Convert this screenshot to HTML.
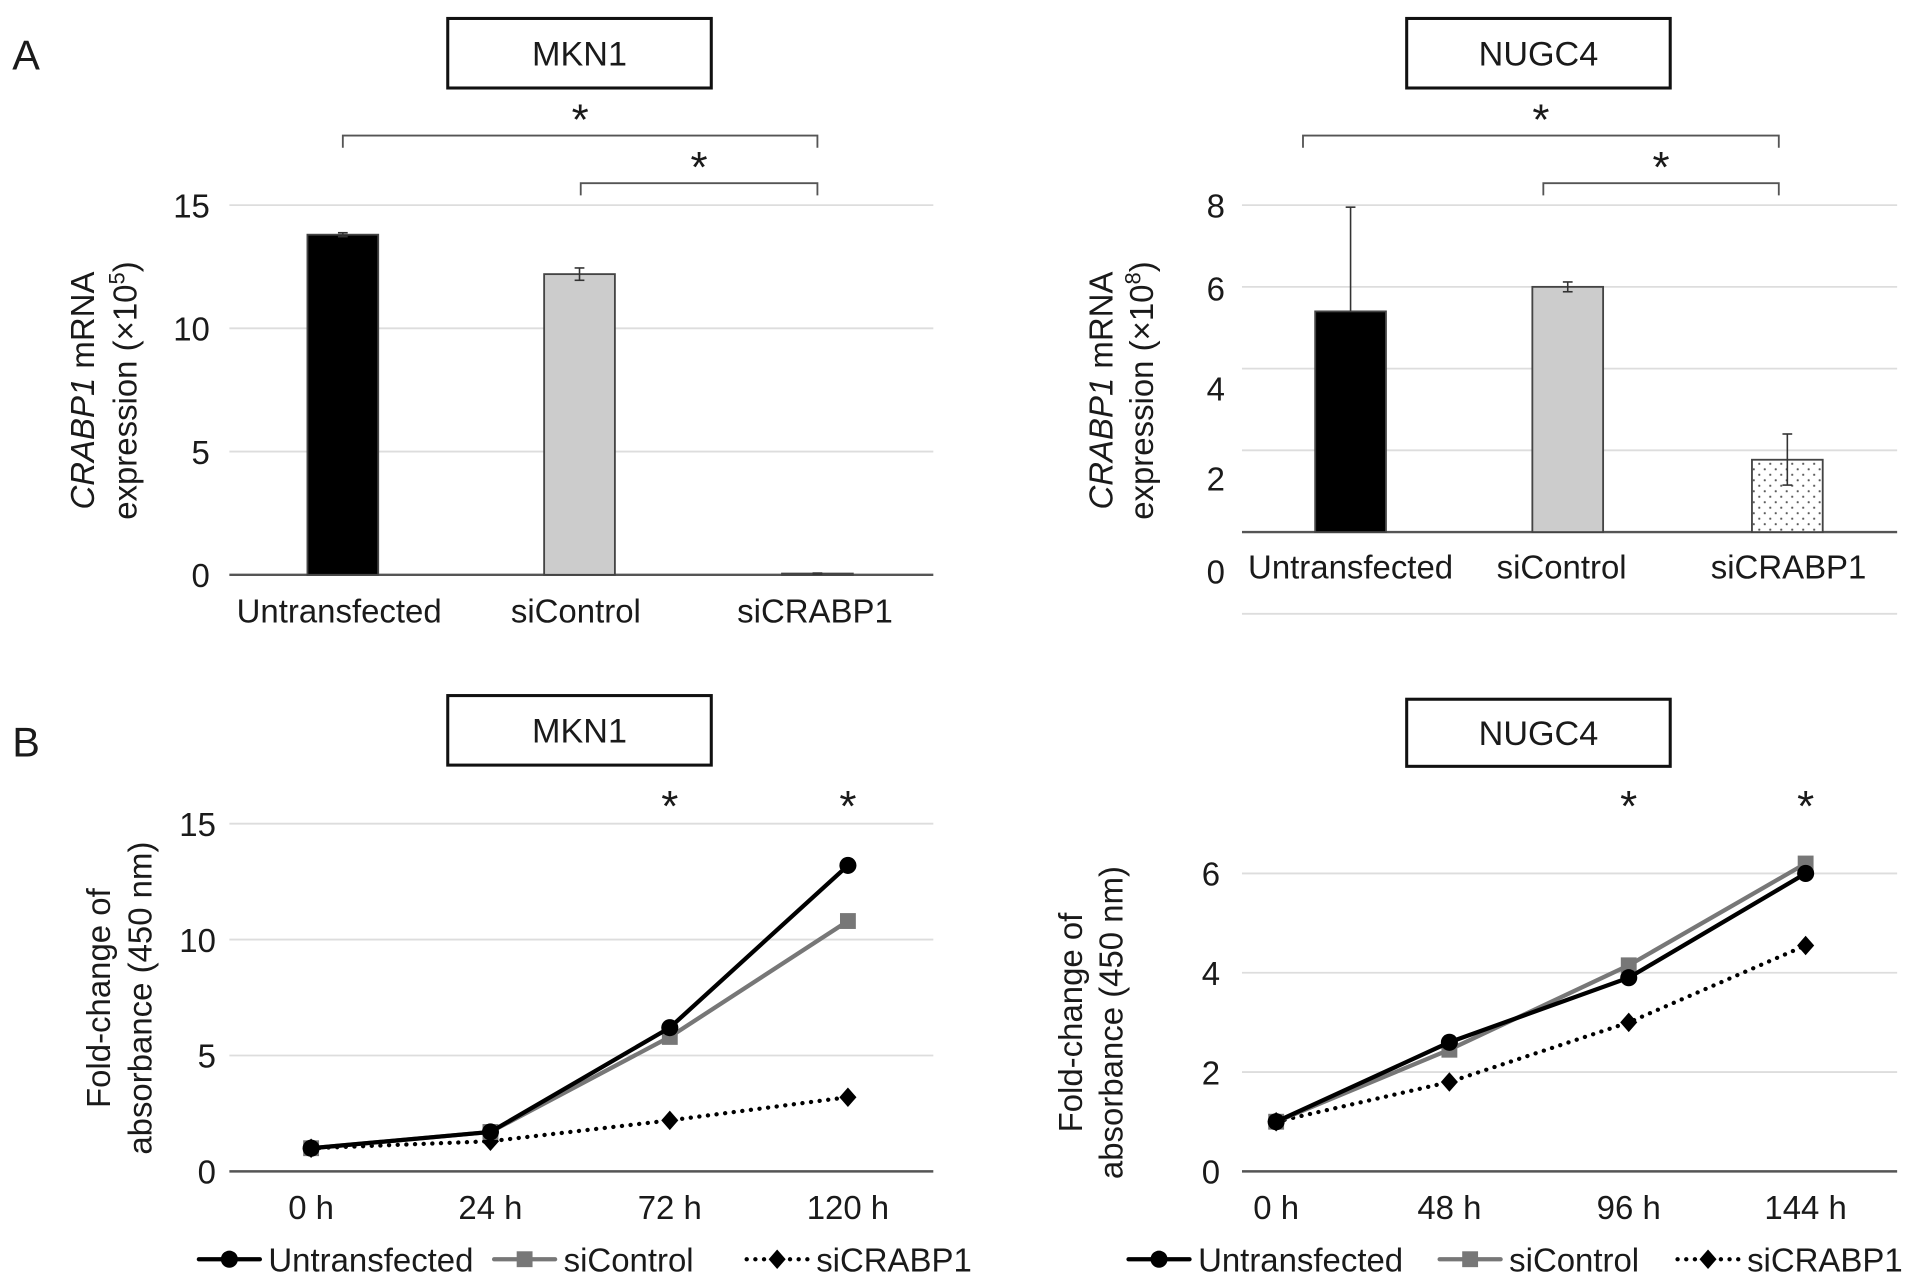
<!DOCTYPE html>
<html><head><meta charset="utf-8"><style>
html,body{margin:0;padding:0;background:#fff}
svg{display:block;font-family:"Liberation Sans",sans-serif}
</style></head><body>
<svg id="fig" width="1913" height="1285" viewBox="0 0 1568 1053"></svg>
<script>
// ---- data ----
const barCategories = ["Untransfected","siControl","siCRABP1"];
const mkn1BarValues = [13.8, 12.2, 0.05];
const mkn1BarErrors = [0.08, 0.25, 0.02];
const nugc4BarValues = [5.4, 6.0, 1.77];
const nugc4BarErrUp = [2.55, 0.12, 0.63];
const nugc4BarErrDown = [0, 0.12, 0.62];
const mkn1BarTicks = [0,5,10,15];
const nugc4BarTicks = [0,2,4,6,8];
const mkn1TimeLabels = ["0 h","24 h","72 h","120 h"];
const nugc4TimeLabels = ["0 h","48 h","96 h","144 h"];
const seriesNames = ["Untransfected","siControl","siCRABP1"];
const mkn1Untransfected = [1.0, 1.7, 6.2, 13.2];
const mkn1SiControl = [1.0, 1.7, 5.8, 10.8];
const mkn1SiCRABP1 = [1.0, 1.3, 2.2, 3.2];
const nugc4Untransfected = [1.0, 2.6, 3.9, 6.0];
const nugc4SiControl = [1.0, 2.45, 4.15, 6.2];
const nugc4SiCRABP1 = [1.0, 1.8, 3.0, 4.55];
const mkn1LineTicks = [0,5,10,15];
const nugc4LineTicks = [0,2,4,6];

const FS=27;
const NS="http://www.w3.org/2000/svg";
const svg=document.getElementById('fig');
function el(tag,attrs,parent){const e=document.createElementNS(NS,tag);for(const k in attrs)e.setAttribute(k,attrs[k]);(parent||svg).appendChild(e);return e;}
function txt(x,y,s,size,anchor,parent){const t=el('text',{x:x,y:y,'font-size':size,'text-anchor':anchor||'middle',fill:'#1a1a1a'},parent);t.textContent=s;return t;}

function titleBox(x,y,w,h,label){
  const g=el('g',{});
  
  
  el('rect',{x:x,y:y,width:w,height:h,fill:'#fff',stroke:'#111','stroke-width':2.5},g);
  txt(x+w/2,y+h/2+10,label,28,'middle',g);
}
function bracket(x1,x2,y){
  const g=el('g',{});
  
  
  el('path',{d:`M${x1} ${y+10}V${y}H${x2}V${y+10}`,fill:'none',stroke:'#555','stroke-width':1.5},g);
  txt((x1+x2)/2,y-1,'*',36,'middle',g);
}
function ylabel(x1,x2,cy,l1a,l1b,l2){
  const g=el('g',{transform:`rotate(-90)`});
  
  
  const t=el('text',{x:-cy,y:x1,'font-size':FS,'text-anchor':'middle',fill:'#1a1a1a'},g);
  if(l1a){const s=el('tspan',{'font-style':'italic'},t);s.textContent=l1a;}
  const s2=el('tspan',{},t);s2.textContent=l1b;
  const t2=el('text',{x:-cy,y:x2,'font-size':FS,'text-anchor':'middle',fill:'#1a1a1a'},g);
  t2.innerHTML=l2;
}

txt(10,57,'A',34,'start');
txt(10,620,'B',34,'start');

function barChart(cfg){
  const g=el('g',{});
  
  
  const y=v=>cfg.y0-(v-0)*cfg.ppu;
  cfg.grid.forEach(v=>{ if(v!==0) el('line',{x1:cfg.x1,x2:cfg.x2,y1:y(v),y2:y(v),stroke:'#ddd','stroke-width':1.5},g);});
  cfg.ticks.forEach((v,i)=>{const t=txt(cfg.tickX,(cfg.tickY?cfg.tickY[i]:y(v))+10,String(v),FS,'end',g);
    });
  el('line',{x1:cfg.x1,x2:cfg.x2,y1:cfg.y0,y2:cfg.y0,stroke:'#555','stroke-width':2},g);
  cfg.values.forEach((v,i)=>{
    const cx=cfg.cx[i],w=58;
    const fill=i===0?'#000':(i===1?'#ccc':(cfg.dots?'url(#dots)':'#fff'));
    const r=el('rect',{x:cx-w/2,y:y(v),width:w,height:cfg.y0-y(v),fill:fill,stroke:'#444','stroke-width':1.5},g);
    
    
    const up=cfg.errUp[i],dn=cfg.errDown[i];
    if(up>0){
      el('line',{x1:cx,x2:cx,y1:y(v-dn),y2:y(v+up),stroke:'#333','stroke-width':1.3},g);
      el('line',{x1:cx-4,x2:cx+4,y1:y(v+up),y2:y(v+up),stroke:'#333','stroke-width':1.3},g);
      if(dn>0)el('line',{x1:cx-4,x2:cx+4,y1:y(v-dn),y2:y(v-dn),stroke:'#333','stroke-width':1.3},g);
    }
    const t=txt(cfg.labelX[i],cfg.labelY,barCategories[i],FS,'middle',g);
    
  });
}
const defs=el('defs',{});
const pat=el('pattern',{id:'dots',width:9,height:9,patternUnits:'userSpaceOnUse'},defs);
el('rect',{width:9,height:9,fill:'#fff'},pat);
el('circle',{cx:2,cy:2,r:0.9,fill:'#555'},pat);
el('circle',{cx:6.5,cy:6.5,r:0.9,fill:'#555'},pat);

titleBox(367,15,216,57,'MKN1');
titleBox(1153,15,216,57,'NUGC4');
bracket(281,670,111);bracket(476,670,150);
bracket(1068,1458,111);bracket(1265,1458,150);

barChart({name:'mkn1-bar-chart',x1:188,x2:765,y0:471,ppu:20.2,grid:mkn1BarTicks,ticks:mkn1BarTicks,tickX:172,
  values:mkn1BarValues,errUp:mkn1BarErrors,errDown:mkn1BarErrors,cx:[281,475,670],labelX:[278,472,668],labelY:510});
barChart({name:'nugc4-bar-chart',x1:1018,x2:1555,y0:436,ppu:33.5,grid:[-2,2,4,6,8],ticks:nugc4BarTicks,tickX:1004,
  tickY:[468,392,318,236,168],
  values:nugc4BarValues,errUp:nugc4BarErrUp,errDown:nugc4BarErrDown,cx:[1107,1285,1465],labelX:[1107,1280,1466],labelY:474,dots:true});
ylabel(77,112,320,'CRABP1',' mRNA','expression (×10<tspan dy="-10" font-size="18">5</tspan><tspan dy="10">)</tspan>');
ylabel(912,945,320,'CRABP1',' mRNA','expression (×10<tspan dy="-10" font-size="18">8</tspan><tspan dy="10">)</tspan>');

titleBox(367,570,216,57,'MKN1');
titleBox(1153,573,216,55,'NUGC4');
function marker(type,x,y,color,g){
  if(type===0)return el('circle',{cx:x,cy:y,r:7,fill:color},g);
  if(type===1)return el('rect',{x:x-6.5,y:y-6.5,width:13,height:13,fill:color},g);
  return el('path',{d:`M${x} ${y-8}L${x+7} ${y}L${x} ${y+8}L${x-7} ${y}Z`,fill:color},g);
}
const colors=['#000','#777','#000'];
function lineChart(cfg){
  const g=el('g',{});
  
  
  const y=v=>cfg.y0-v*cfg.ppu;
  cfg.ticks.forEach(v=>{ if(v!==0) el('line',{x1:cfg.x1,x2:cfg.x2,y1:y(v),y2:y(v),stroke:'#ddd','stroke-width':1.5},g);
    const t=txt(cfg.tickX,y(v)+10,String(v),FS,'end',g);});
  el('line',{x1:cfg.x1,x2:cfg.x2,y1:cfg.y0,y2:cfg.y0,stroke:'#555','stroke-width':2},g);
  cfg.labels.forEach((s,i)=>{const t=txt(cfg.xs[i],999,s,FS,'middle',g);});
  [2,1,0].forEach(si=>{
    const vals=cfg.series[si];
    const pts=vals.map((v,i)=>cfg.xs[i]+','+y(v)).join(' ');
    const pl=el('polyline',{points:pts,fill:'none',stroke:colors[si],'stroke-width':si===2?3.5:3.5,'stroke-dasharray':si===2?'0.1 7':'none','stroke-linecap':'round'},g);
    
    
    vals.forEach((v,i)=>{const m=marker(si,cfg.xs[i],y(v),colors[si],g);
      
      });
  });
  cfg.stars.forEach(i=>{const t=txt(cfg.xs[i],673,'*',36,'middle',g);});
  cfg.legend.forEach((lx,si)=>{
    const lg=el('g',{},g);
    
    
    el('line',{x1:lx,x2:lx+50,y1:1032,y2:1032,stroke:colors[si],'stroke-width':3.5,'stroke-dasharray':si===2?'0.1 7':'none','stroke-linecap':'round'},lg);
    marker(si,lx+25,1032,colors[si],lg);
    txt(lx+57,1042,seriesNames[si],FS,'start',lg);
  });
}
lineChart({name:'mkn1-line-chart',x1:188,x2:765,y0:960,ppu:19,ticks:mkn1LineTicks,tickX:177,xs:[255,402,549,695],
  labels:mkn1TimeLabels,series:[mkn1Untransfected,mkn1SiControl,mkn1SiCRABP1],stars:[2,3],legend:[163,405,612]});
lineChart({name:'nugc4-line-chart',x1:1018,x2:1555,y0:960,ppu:40.7,ticks:nugc4LineTicks,tickX:1000,xs:[1046,1188,1335,1480],
  labels:nugc4TimeLabels,series:[nugc4Untransfected,nugc4SiControl,nugc4SiCRABP1],stars:[2,3],legend:[925,1180,1375]});
ylabel(90,124,818,'','Fold-change of','absorbance (450 nm)');
ylabel(887,920,838,'','Fold-change of','absorbance (450 nm)');
</script>
</body></html>
